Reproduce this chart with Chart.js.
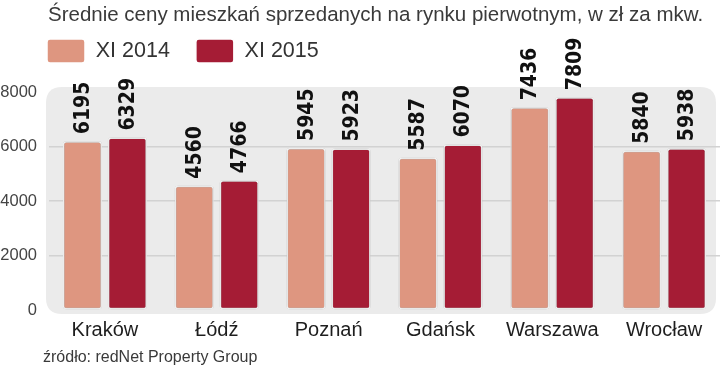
<!DOCTYPE html>
<html>
<head>
<meta charset="utf-8">
<script src="https://cdn.jsdelivr.net/npm/chart.js@4.4.1/dist/chart.umd.min.js"></script>
<style>
  html, body { margin: 0; padding: 0; background: #fff; }
  #wrap { width: 720px; height: 366px; position: relative; }
</style>
</head>
<body>
<div id="wrap"><canvas id="c" width="720" height="366"></canvas></div>
<script>
const titleText = 'Średnie ceny mieszkań sprzedanych na rynku pierwotnym, w zł za mkw.';
const sourceText = 'źródło: redNet Property Group';
const categories = ['Kraków', 'Łódź', 'Poznań', 'Gdańsk', 'Warszawa', 'Wrocław'];
const seriesNames = ['XI 2014', 'XI 2015'];
const values2014 = [6195, 4560, 5945, 5587, 7436, 5840];
const values2015 = [6329, 4766, 5923, 6070, 7809, 5938];
const yTicks = [0, 2000, 4000, 6000, 8000];

const COL_LIGHT = '#DE9680';
const COL_DARK = '#A51C35';

const decorPlugin = {
  id: 'decor',
  afterLayout(chart) {
    if (chart.legend) {
      chart.legend.left = 21;
      chart.legend.top -= 19;
      chart.legend.bottom -= 19;
    }
  },
  beforeDraw(chart) {
    const ctx = chart.ctx;
    ctx.save();
    const x0 = 46, x1 = 716, y0 = 87, y1 = 314, r = 16;
    ctx.beginPath();
    ctx.moveTo(x0 + r, y0);
    ctx.lineTo(x1 - r, y0);
    ctx.quadraticCurveTo(x1, y0, x1, y0 + r);
    ctx.lineTo(x1, y1 - r);
    ctx.quadraticCurveTo(x1, y1, x1 - r, y1);
    ctx.lineTo(x0 + r, y1);
    ctx.quadraticCurveTo(x0, y1, x0, y1 - r);
    ctx.lineTo(x0, y0 + r);
    ctx.quadraticCurveTo(x0, y0, x0 + r, y0);
    ctx.closePath();
    ctx.fillStyle = '#EBEBEB';
    ctx.fill();
    ctx.restore();
  },
  beforeDatasetsDraw(chart) {
    const ctx = chart.ctx;
    ctx.save();
    ctx.shadowColor = 'rgba(0,0,0,0.35)';
    ctx.shadowBlur = 2.5;
  },
  afterDatasetsDraw(chart) {
    const ctx = chart.ctx;
    ctx.restore();
    ctx.save();
    ctx.fillStyle = '#111';
    ctx.font = 'bold 21px "DejaVu Sans Condensed", "DejaVu Sans", sans-serif';
    try { ctx.fontStretch = 'condensed'; } catch (e) {}
    ctx.textAlign = 'left';
    ctx.textBaseline = 'middle';
    chart.data.datasets.forEach((ds, di) => {
      const meta = chart.getDatasetMeta(di);
      meta.data.forEach((el, i) => {
        ctx.save();
        ctx.translate(el.x, el.y - 7);
        ctx.rotate(-Math.PI / 2);
        ctx.fillText(String(ds.data[i]), 0, 1);
        ctx.restore();
      });
    });
    ctx.restore();
  },
  afterDraw(chart) {
    const ctx = chart.ctx;
    ctx.save();
    ctx.fillStyle = '#3a3a3a';
    ctx.textAlign = 'left';
    ctx.textBaseline = 'alphabetic';
    ctx.font = '20.5px "Liberation Sans", Arial, sans-serif';
    ctx.fillText(titleText, 48, 21);
    ctx.font = '16px "Liberation Sans", Arial, sans-serif';
    ctx.fillText(sourceText, 43, 362);
    ctx.restore();
  }
};

new Chart(document.getElementById('c'), {
  type: 'bar',
  data: {
    labels: categories,
    datasets: [
      { label: seriesNames[0], data: values2014, backgroundColor: COL_LIGHT },
      { label: seriesNames[1], data: values2015, backgroundColor: COL_DARK }
    ]
  },
  options: {
    responsive: false,
    animation: false,
    devicePixelRatio: 1,
    layout: { padding: { top: 32, left: 0, right: 0, bottom: 24 } },
    datasets: {
      bar: {
        categoryPercentage: 0.804,
        barPercentage: 0.867,
        borderColor: '#ffffff',
        borderWidth: 1.5,
        borderRadius: 3,
        borderSkipped: false
      }
    },
    scales: {
      x: {
        grid: { display: false },
        border: { display: false },
        ticks: {
          color: '#1e1e1e',
          padding: 0,
          font: { family: '"Liberation Sans", Arial, sans-serif', size: 20 }
        }
      },
      y: {
        min: 0,
        max: 8000,
        afterFit: s => { s.width = 49; },
        afterBuildTicks: s => { s.ticks = yTicks.map(v => ({ value: v })); },
        border: { display: false },
        grid: {
          drawTicks: false,
          lineWidth: 1.5,
          color: c => (c.tick && (c.tick.value === 0 || c.tick.value === 8000)) ? 'rgba(0,0,0,0)' : '#D2D2D2'
        },
        ticks: {
          color: '#444',
          padding: 12,
          callback: v => String(v),
          font: { family: '"Liberation Sans", Arial, sans-serif', size: 16.5 }
        }
      }
    },
    plugins: {
      legend: {
        position: 'top',
        align: 'start',
        labels: {
          boxWidth: 38,
          boxHeight: 24,
          padding: 26,
          color: '#333',
          useBorderRadius: true,
          borderRadius: 3,
          font: { family: '"Liberation Sans", Arial, sans-serif', size: 21.5 }
        }
      },
      title: { display: false },
      tooltip: { enabled: false }
    }
  },
  plugins: [decorPlugin]
});
</script>
</body>
</html>
